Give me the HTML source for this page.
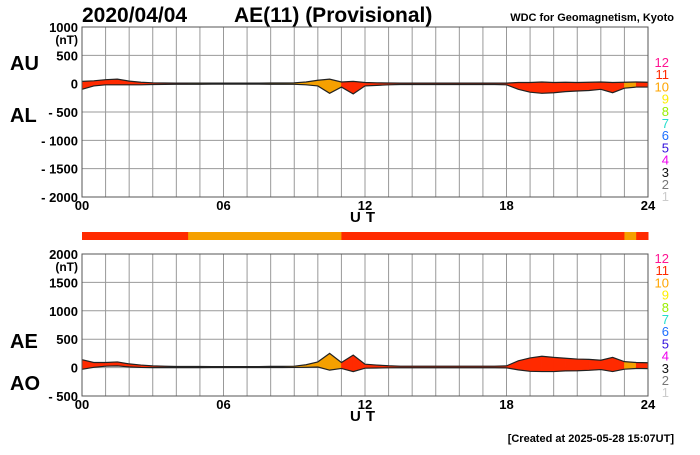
<!DOCTYPE html>
<html><head><meta charset="utf-8"><style>
body{margin:0;background:#fff;width:700px;height:450px;overflow:hidden;font-family:"Liberation Sans",Arial,sans-serif}
svg text{font-family:"Liberation Sans",Arial,sans-serif}
</style></head><body>
<svg id="c" width="700" height="450" xmlns="http://www.w3.org/2000/svg">
<g id="g"></g>
</svg>
<script>
const hours=[0,0.5,1,1.5,2,2.5,3,3.5,4,4.5,5,5.5,6,6.5,7,7.5,8,8.5,9,9.5,10,10.5,11,11.5,12,12.5,13,13.5,14,14.5,15,15.5,16,16.5,17,17.5,18,18.5,19,19.5,20,20.5,21,21.5,22,22.5,23,23.5,24];
const auValues=[40,50,70,80,45,25,15,12,10,10,10,10,10,10,10,10,12,12,15,30,60,80,30,40,20,15,12,10,10,10,10,10,10,10,10,10,10,20,20,30,20,25,20,25,30,20,25,30,25];
const alValues=[-100,-40,-20,-20,-20,-20,-15,-12,-10,-10,-10,-8,-8,-8,-8,-8,-10,-10,-10,-20,-40,-170,-60,-180,-40,-30,-20,-15,-15,-15,-15,-15,-15,-15,-15,-15,-20,-100,-150,-170,-160,-140,-130,-120,-100,-160,-80,-60,-60];
const classes=[11,11,11,11,11,11,11,11,11,10,10,10,10,10,10,10,10,10,10,10,10,10,11,11,11,11,11,11,11,11,11,11,11,11,11,11,11,11,11,11,11,11,11,11,11,11,10,11];
const xTicks=["00","06","12","18","24"];
const topTicks=[1000,500,0,-500,-1000,-1500,-2000];
const botTicks=[2000,1500,1000,500,0,-500];
const legendNums=[12,11,10,9,8,7,6,5,4,3,2,1];
const legendCols=["#ff1493","#ff2a00","#ffa500","#ffee00","#99ee00","#22ddcc","#1e6fff","#3311dd","#ee00ee","#111","#777","#ccc"];
const classCol={10:"#f5a000",11:"#ff2a00"};
const NS="http://www.w3.org/2000/svg";
const G=document.getElementById('g');
const X0=82,X1=648;
const xs=h=>X0+(X1-X0)*h/24;
function el(t,a,txt){const e=document.createElementNS(NS,t);for(const k in a)e.setAttribute(k,a[k]);if(txt!==undefined)e.textContent=txt;G.appendChild(e);return e;}
function panel(y0,y1,vmax,vmin,ticks,lowKey,name,legY){
  const ys=v=>y0+(y1-y0)*(vmax-v)/(vmax-vmin);
  for(let h=0;h<=24;h++){const l=el('line',{x1:xs(h),x2:xs(h),y1:y0,y2:y1,stroke:'#999','stroke-width':1});}
  ticks.forEach(t=>{const l=el('line',{x1:X0,x2:X1,y1:ys(t),y2:ys(t),stroke:'#999','stroke-width':1});
    const lab=(t<0?'- '+(-t):String(t));const tx=el('text',{x:X0-4,y:ys(t)+5,'text-anchor':'end','font-size':13,'font-weight':'bold'},lab);});
  const u=el('text',{x:X0-4,y:ys(ticks[0])+17,'text-anchor':'end','font-size':12,'font-weight':'bold'},'(nT)');
  const up=lowKey==='al'?auValues:hours.map((h,i)=>auValues[i]-alValues[i]);
  const lo=lowKey==='al'?alValues:hours.map((h,i)=>(auValues[i]+alValues[i])/2);
  for(let i=0;i<hours.length-1;i++){
    const p=`${xs(hours[i])},${ys(up[i])} ${xs(hours[i+1])},${ys(up[i+1])} ${xs(hours[i+1])},${ys(lo[i+1])} ${xs(hours[i])},${ys(lo[i])}`;
    const s=el('polygon',{points:p,fill:classCol[classes[i]],stroke:classCol[classes[i]],'stroke-width':0.5});
    
  }
  [up,lo].forEach((arr,k)=>{const pl=el('polyline',{points:hours.map((h,i)=>xs(h)+','+ys(arr[i])).join(' '),fill:'none',stroke:'#222','stroke-width':1.2});});
  const f=el('rect',{x:X0,y:y0,width:X1-X0,height:y1-y0,fill:'none',stroke:'#555'});
  xTicks.forEach((t,i)=>{const tx=el('text',{x:xs(i*6),y:y1+13,'text-anchor':'middle','font-size':13,'font-weight':'bold'},t);});
  const ut=el('text',{x:365,y:y1+25,'text-anchor':'middle','font-size':15,'font-weight':'bold','letter-spacing':'5'},'UT');
  legendNums.forEach((n,i)=>{const tx=el('text',{x:669,y:legY+i*12.2,'text-anchor':'end','font-size':13,fill:legendCols[i]},String(n));});
}
panel(27,197,1000,-2000,topTicks,'al','au-al',67);
panel(254,396,2000,-500,botTicks,'ao','ae-ao',263);
for(let i=0;i<classes.length;i++){const r=el('rect',{x:xs(hours[i]),y:232,width:xs(hours[i+1])-xs(hours[i])+0.5,height:8,fill:classCol[classes[i]]});}
const texts=[['title-date',82,22,21,'2020/04/04','start'],['title-index',234,22,21,'AE(11) (Provisional)','start'],['au-label',10,70,20,'AU','start'],['al-label',10,122,20,'AL','start'],['ae-label',10,348,20,'AE','start'],['ao-label',10,390,20,'AO','start']];
texts.forEach(t=>{const e=el('text',{x:t[1],y:t[2],'font-size':t[3],'font-weight':'bold','text-anchor':t[5]},t[4]);});
const w=el('text',{x:674,y:21,'text-anchor':'end','font-size':11,'font-weight':'bold'},'WDC for Geomagnetism, Kyoto');
const cr=el('text',{x:674,y:442,'text-anchor':'end','font-size':11,'font-weight':'bold'},'[Created at 2025-05-28 15:07UT]');
</script>
</body></html>
